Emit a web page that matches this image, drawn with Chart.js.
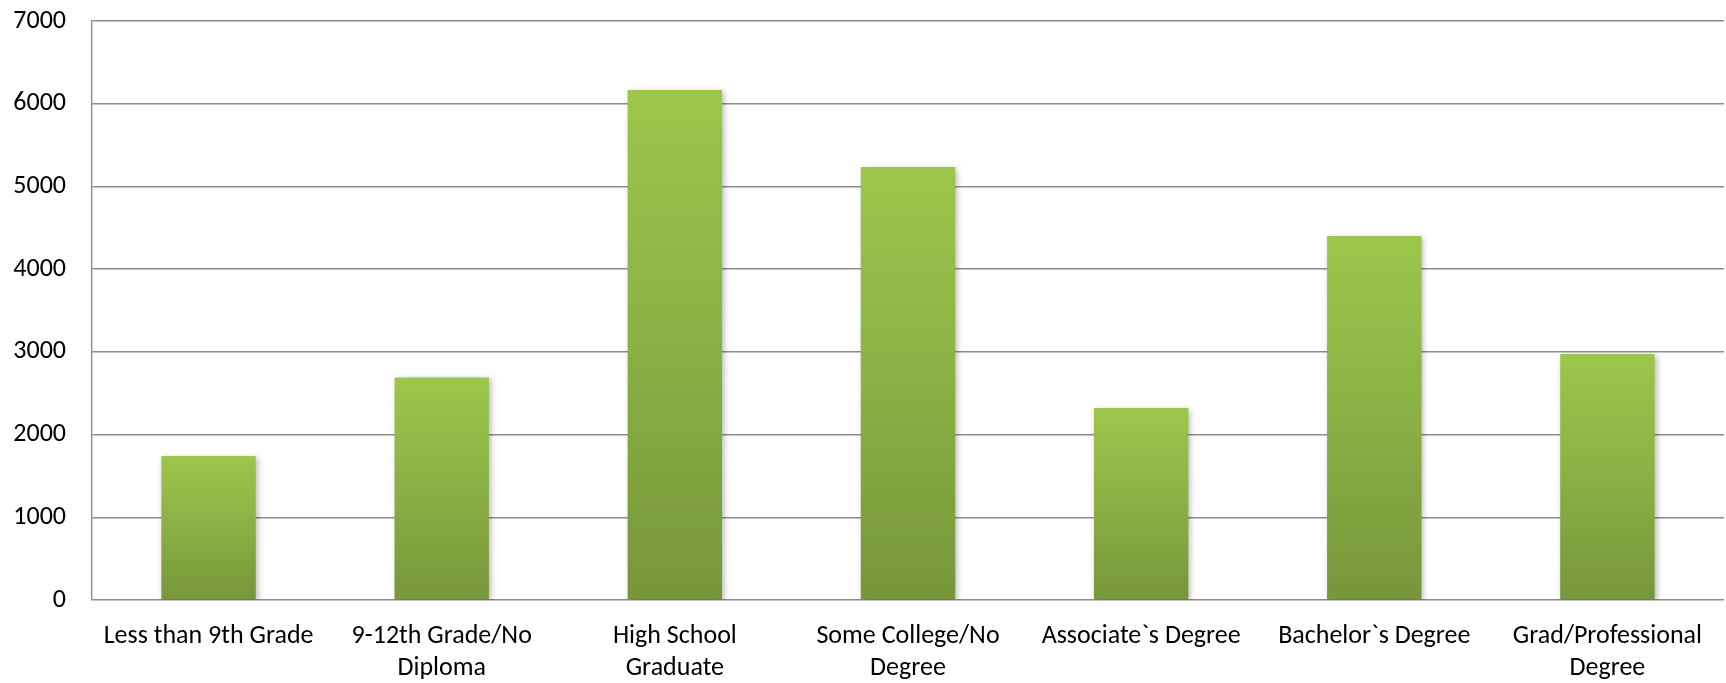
<!DOCTYPE html>
<html>
<head>
<meta charset="utf-8">
<script src="https://cdn.jsdelivr.net/npm/chart.js@4/dist/chart.umd.min.js"></script>
<style>
  html, body { margin: 0; padding: 0; background: #fff; }
  #wrap { width: 1726px; height: 683px; }
</style>
</head>
<body>
<div id="wrap"><canvas id="chart"></canvas></div>
<script>
const categories = [
  "Less than 9th Grade",
  ["9-12th Grade/No", "Diploma"],
  ["High School", "Graduate"],
  ["Some College/No", "Degree"],
  "Associate`s Degree",
  "Bachelor`s Degree",
  ["Grad/Professional", "Degree"]
];
const counts = [1740, 2690, 6165, 5235, 2320, 4400, 2975];
const yTicks = [0, 1000, 2000, 3000, 4000, 5000, 6000, 7000];

const FONT = "Carlito, Lato, 'Open Sans', sans-serif";

// each bar gets its own light-to-dark gradient
function barFill(context) {
  const chart = context.chart;
  const y = chart.scales.y;
  if (!y || context.type !== "data") return "#8db043";
  const top = y.getPixelForValue(context.raw);
  const bottom = y.getPixelForValue(0);
  if (!isFinite(top) || !isFinite(bottom)) return "#8db043";
  const g = chart.ctx.createLinearGradient(0, top, 0, bottom);
  g.addColorStop(0, "#9dc64b");
  g.addColorStop(0.5, "#8bb044");
  g.addColorStop(1, "#779639");
  return g;
}

const barShadow = {
  id: "barShadow",
  beforeDatasetsDraw(chart) {
    const ctx = chart.ctx;
    ctx.save();
    ctx.shadowColor = "rgba(0,0,0,0.28)";
    ctx.shadowBlur = 6;
    ctx.shadowOffsetX = 2;
    ctx.shadowOffsetY = 2;
  },
  afterDatasetsDraw(chart) {
    chart.ctx.restore();
  }
};

new Chart(document.getElementById("chart"), {
  type: "bar",
  data: {
    labels: categories,
    datasets: [{
      data: counts,
      backgroundColor: barFill,
      borderWidth: 0,
      categoryPercentage: 1,
      barPercentage: 0.405
    }]
  },
  options: {
    responsive: true,
    maintainAspectRatio: false,
    animation: false,
    events: [],
    layout: { padding: { top: 21, right: 2, left: 0, bottom: 0 } },
    plugins: {
      legend: { display: false },
      tooltip: { enabled: false }
    },
    scales: {
      x: {
        grid: { display: false, drawTicks: false },
        border: { display: false },
        ticks: {
          maxRotation: 0,
          autoSkip: false,
          padding: 20,
          color: "#000",
          font: { family: FONT, size: 26, lineHeight: 1.25 }
        },
        afterFit(scale) { scale.height = 83; }
      },
      y: {
        min: 0,
        max: 7000,
        afterBuildTicks(scale) {
          scale.ticks = yTicks.map(v => ({ value: v }));
        },
        grid: { color: "#8c8c8c", lineWidth: 1.4, drawTicks: false },
        border: { display: true, color: "#8c8c8c", width: 1.4 },
        ticks: {
          padding: 26,
          color: "#000",
          font: { family: FONT, size: 26 },
          callback: v => String(v)
        },
        afterFit(scale) {
          scale.width = 92;
          // tick padding is meant horizontally only
          scale.paddingTop = 0;
          scale.paddingBottom = 0;
        }
      }
    }
  },
  plugins: [barShadow]
});
</script>
</body>
</html>
